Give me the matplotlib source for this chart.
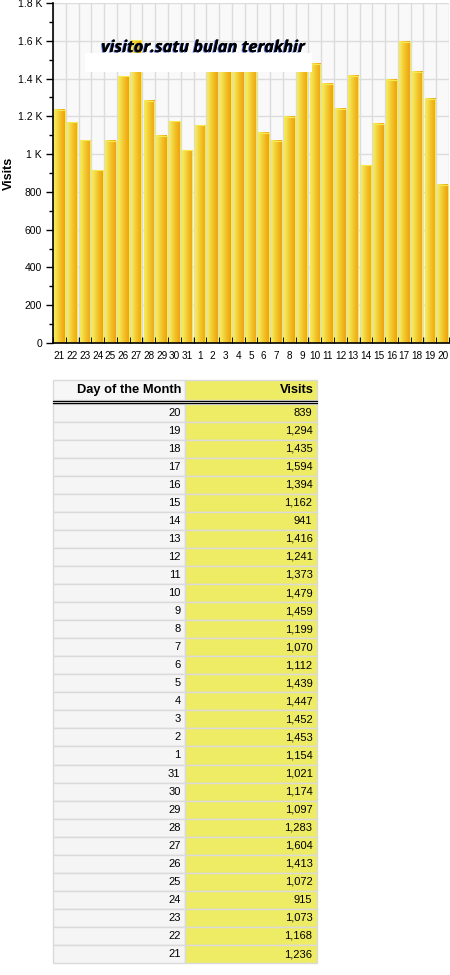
import numpy as np
import matplotlib.pyplot as plt
from matplotlib.patches import Rectangle
from matplotlib.colors import LinearSegmentedColormap
import matplotlib.patheffects as pe
from matplotlib.ticker import FuncFormatter, MultipleLocator

days = [21, 22, 23, 24, 25, 26, 27, 28, 29, 30, 31,
        1, 2, 3, 4, 5, 6, 7, 8, 9, 10, 11, 12, 13, 14, 15, 16, 17, 18, 19, 20]
visits = [1236, 1168, 1073, 915, 1072, 1413, 1604, 1283, 1097, 1174, 1021,
          1154, 1453, 1452, 1447, 1439, 1112, 1070, 1199, 1459, 1479, 1373,
          1241, 1416, 941, 1162, 1394, 1594, 1435, 1294, 839]
title_text = "visitor.satu bulan terakhir"
col_headers = ["Day of the Month", "Visits"]

W, H = 450, 975
fig = plt.figure(figsize=(W / 100, H / 100), dpi=100)
plt.rcParams['font.family'] = ['Liberation Sans', 'DejaVu Sans']


def fx(px):
    return px / W


def fy(py):
    return 1 - py / H


# ---- bar chart ----
ax = fig.add_axes([fx(53), fy(343), fx(449) - fx(53), fy(3) - fy(343)])
ax.set_facecolor('#f9f9f9')

grad = np.linspace(0, 1, 64).reshape(1, -1)
cmap = LinearSegmentedColormap.from_list('bar', ['#f5ee6c', '#f3c82c', '#eea00e'])
bw = 0.83
for i, v in enumerate(visits):
    ax.imshow(grad, cmap=cmap, aspect='auto', extent=(i - bw / 2, i + bw / 2, 0, v),
              zorder=2, interpolation='bilinear')
    ax.add_patch(Rectangle((i - bw / 2, 0), bw, v, fill=False, edgecolor='#f4ea50',
                           lw=0.8, zorder=3))
ax.set_xlim(-0.5, len(days) - 0.5)
ax.set_ylim(0, 1800)

ax.set_xticks(range(len(days)))
ax.set_xticklabels([str(d) for d in days], fontsize=7.2)
ax.set_xticks(np.arange(len(days) + 1) - 0.5, minor=True)
ax.tick_params(axis='x', which='major', length=0, pad=6)
ax.tick_params(axis='x', which='minor', direction='in', length=4, width=1, color='black')

ax.yaxis.set_major_locator(MultipleLocator(200))
ax.yaxis.set_minor_locator(MultipleLocator(100))
ax.yaxis.set_major_formatter(FuncFormatter(
    lambda v, p: (('%g K' % (v / 1000)) if v >= 1000 else '%d' % v)))
ax.tick_params(axis='y', which='major', length=5, width=1, labelsize=7.5, pad=3)
ax.tick_params(axis='y', which='minor', length=3, width=1)

ax.grid(axis='y', which='major', color='#dcdcdc', lw=1, zorder=0)
ax.grid(axis='x', which='minor', color='#dcdcdc', lw=1, zorder=0)
ax.set_axisbelow(True)
for s in ['top', 'right']:
    ax.spines[s].set_visible(False)
for s in ['left', 'bottom']:
    ax.spines[s].set_linewidth(1.2)
    ax.spines[s].set_zorder(5)
ax.set_ylabel('Visits', fontsize=9, fontweight='bold')
ax.yaxis.set_label_coords((15 - 53) / 396, 0.5)

# title box
fig.patches.append(Rectangle((fx(85), fy(72)), fx(312) - fx(85), fy(53) - fy(72),
                             transform=fig.transFigure, facecolor='white',
                             edgecolor='none', zorder=4))
t = fig.text(fx(203), fy(48), title_text, ha='center', va='center', fontsize=11.8,
             fontweight='bold', fontstyle='italic', family=['Open Sans', 'DejaVu Sans'],
             zorder=6)
t.set_path_effects([pe.withSimplePatchShadow(offset=(-0.8, -0.4), shadow_rgbFace='#2848d0',
                                             alpha=0.8), pe.Normal()])

# ---- table ----
tab = fig.add_axes([0, 0, 1, 1])
tab.set_xlim(0, W)
tab.set_ylim(H, 0)
tab.axis('off')

x0, xm, x1 = 52.5, 184.5, 316.5
top, head_h, row_h = 380, 20, 18.05
border = '#dadada'

tab.add_patch(Rectangle((x0, top), xm - x0, head_h, facecolor='#f7f7f7', edgecolor=border, lw=1))
tab.add_patch(Rectangle((xm, top), x1 - xm, head_h, facecolor='#eeec64', edgecolor=border, lw=1))
tab.text(xm - 3, top + head_h / 2, col_headers[0], ha='right', va='center',
         fontsize=9.3, fontweight='bold')
tab.text(x1 - 3, top + head_h / 2, col_headers[1], ha='right', va='center',
         fontsize=9.3, fontweight='bold')
tab.plot([x0, x1], [top + head_h + 0.7, top + head_h + 0.7], color='black', lw=0.9)
tab.plot([x0, x1], [top + head_h + 2.8, top + head_h + 2.8], color='black', lw=0.9)

start = top + head_h + 3.5
for r, (d, v) in enumerate(zip(days[::-1], visits[::-1])):
    y = start + r * row_h
    tab.add_patch(Rectangle((x0, y), xm - x0, row_h, facecolor='#f5f5f5', edgecolor=border, lw=1))
    tab.add_patch(Rectangle((xm, y), x1 - xm, row_h, facecolor='#eeec64', edgecolor=border, lw=1))
    tab.text(xm - 4, y + row_h / 2, str(d), ha='right', va='center', fontsize=8)
    tab.text(x1 - 4, y + row_h / 2, f"{v:,}", ha='right', va='center', fontsize=8)

fig.savefig('out.png', dpi=100)
